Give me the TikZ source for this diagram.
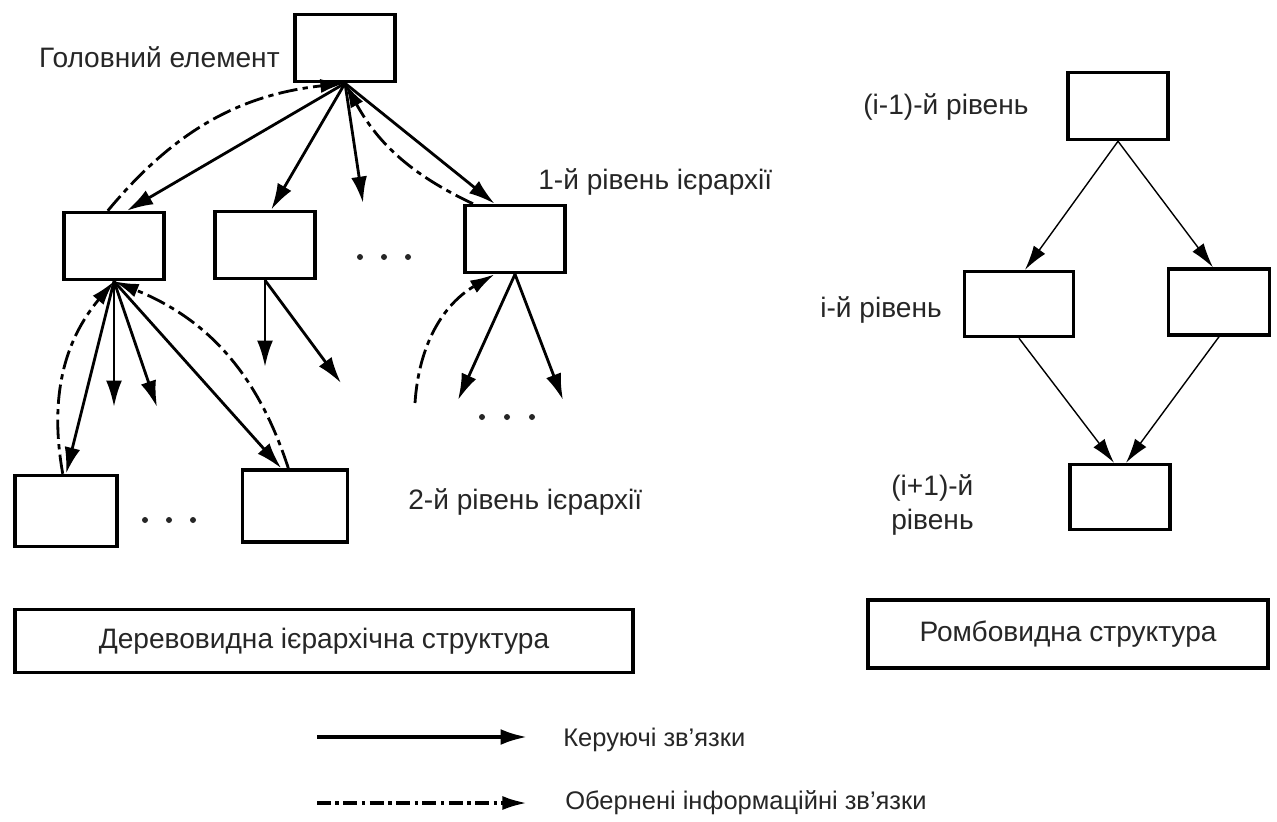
\documentclass[tikz,border=0pt]{standalone}
\usepackage{fontspec}
\setmainfont{Liberation Sans}
\usetikzlibrary{arrows.meta}

\begin{document}
\begin{tikzpicture}[x=0.02cm, y=0.02cm,
		blok/.style={draw, line width=2pt, inner sep=0pt, minimum width=2cm, minimum height=1.34cm},
		nazva/.style={draw, line width=2pt, inner sep=0pt, text=black!85, font=\fontsize{16}{19}\selectfont},
		napys/.style={inner sep=0pt, text=black!85, font=\fontsize{16}{19}\selectfont},
		kerue/.style={line width=1.6pt, -{Latex[length=15pt, width=9pt]}},
		tonka/.style={line width=0.8pt, -{Latex[length=14pt, width=8pt]}},
		obern/.style={line width=1.6pt, dash pattern=on 11pt off 3pt on 3pt off 3pt, -{Latex[length=14pt, width=8pt]}}]
		\useasboundingbox ( 0, 0 ) rectangle ( 1277, -821 );

		% деревовидна структура: елементи
		\node [blok] (golov) at ( 345, -48 ) {};
		\node [blok] (el1) at ( 114, -246 ) {};
		\node [blok] (el2) at ( 265, -245 ) {};
		\node [blok] (el3) at ( 515, -239 ) {};
		\node [blok, minimum width=2.04cm, minimum height=1.42cm] (el11) at ( 66, -511 ) {};
		\node [blok, minimum width=2.1cm, minimum height=1.44cm] (el12) at ( 295, -506 ) {};

		% деревовидна структура: підписи
		\node [napys, anchor=east] (tgolov) at ( 280, -57 ) {Головний елемент};
		\node [napys, anchor=west] (trivn1) at ( 538, -182 ) {1-й рівень ієрархії};
		\node [napys, anchor=west] (trivn2) at ( 408, -502 ) {2-й рівень ієрархії};

		% вільні кінці стрілок
		\coordinate (k0) at ( 363, -203 );
		\coordinate (k11) at ( 114, -407 );
		\coordinate (k12) at ( 157, -407 );
		\coordinate (k21) at ( 265, -367 );
		\coordinate (k22) at ( 341, -383 );
		\coordinate (k31) at ( 458, -400 );
		\coordinate (k32) at ( 563, -400 );
		\coordinate (k33) at ( 415, -403 );

		% зв'язки головного елемента
		\draw [kerue] (golov.south) -- (el1.70);
		\draw [kerue] (golov.south) -- (el2.80);
		\draw [kerue] (golov.south) -- (k0);
		\draw [kerue] (golov.south) -- (el3.120);
		\draw [obern] (el1.100) to [bend left=22] (golov.south);
		\draw [obern] (el3.140) to [bend left=18] (golov.south);

		% зв'язки 1-го рівня
		\draw [kerue] (el1.south) -- (el11.north);
		\draw [kerue] (el1.south) -- (k11);
		\draw [kerue] (el1.south) -- (k12);
		\draw [kerue] (el1.south) -- (el12.110);
		\draw [obern] (el11.95) to [bend left=25] (el1.south);
		\draw [obern] (el12.100) to [bend right=25] (el1.south);
		\draw [kerue] (el2.south) -- (k21);
		\draw [kerue] (el2.south) -- (k22);
		\draw [kerue] (el3.south) -- (k31);
		\draw [kerue] (el3.south) -- (k32);
		\draw [obern] (k33) to [bend left=28] (el3.240);

		% крапки
		\fill [black!85] ( 360, -257 ) circle (3);
		\fill [black!85] ( 384, -257 ) circle (3);
		\fill [black!85] ( 408, -257 ) circle (3);
		\fill [black!85] ( 145, -520 ) circle (3);
		\fill [black!85] ( 169, -520 ) circle (3);
		\fill [black!85] ( 193, -520 ) circle (3);
		\fill [black!85] ( 482, -417 ) circle (3);
		\fill [black!85] ( 507, -417 ) circle (3);
		\fill [black!85] ( 532, -417 ) circle (3);

		% ромбовидна структура
		\node [blok] (r0) at ( 1118, -106 ) {};
		\node [blok, minimum width=2.18cm, minimum height=1.3cm] (r1) at ( 1019, -304 ) {};
		\node [blok, minimum width=2.02cm, minimum height=1.32cm] (r2) at ( 1219, -302 ) {};
		\node [blok, minimum height=1.3cm] (r3) at ( 1120, -497 ) {};
		\node [napys, anchor=west] (tr0) at ( 863, -107 ) {(і-1)-й рівень};
		\node [napys, anchor=west] (tr1) at ( 820, -310 ) {і-й рівень};
		\node [napys, anchor=west, align=left] (tr3) at ( 891, -505 ) {(і+1)-й\\рівень};
		\draw [tonka] (r0.south) -- (r1.80);
		\draw [tonka] (r0.south) -- (r2.100);
		\draw [tonka] (r1.south) -- (r3.100);
		\draw [tonka] (r2.south) -- (r3.80);

		% назви структур
		\node [nazva, minimum width=12.36cm, minimum height=1.26cm] (tderevo) at ( 324, -641 ) {Деревовидна ієрархічна структура};
		\node [nazva, minimum width=8cm, minimum height=1.36cm] (tromb) at ( 1068, -634 ) {Ромбовидна структура};

		% легенда
		\coordinate (l1a) at ( 317, -737 );
		\coordinate (l1b) at ( 527, -737 );
		\coordinate (l2a) at ( 317, -803 );
		\coordinate (l2b) at ( 527, -803 );
		\draw [kerue, line width=2pt] (l1a) -- (l1b);
		\draw [obern, line width=2pt, dash pattern=on 8pt off 2.5pt on 2pt off 2.5pt] (l2a) -- (l2b);
		\node [napys, anchor=west, font=\fontsize{14.5}{17}\selectfont] (tkerue) at ( 563, -740 ) {Керуючі зв’язки};
		\node [napys, anchor=west, font=\fontsize{14.5}{17}\selectfont] (tobern) at ( 565, -803 ) {Обернені інформаційні зв’язки};
\end{tikzpicture}
\end{document}
